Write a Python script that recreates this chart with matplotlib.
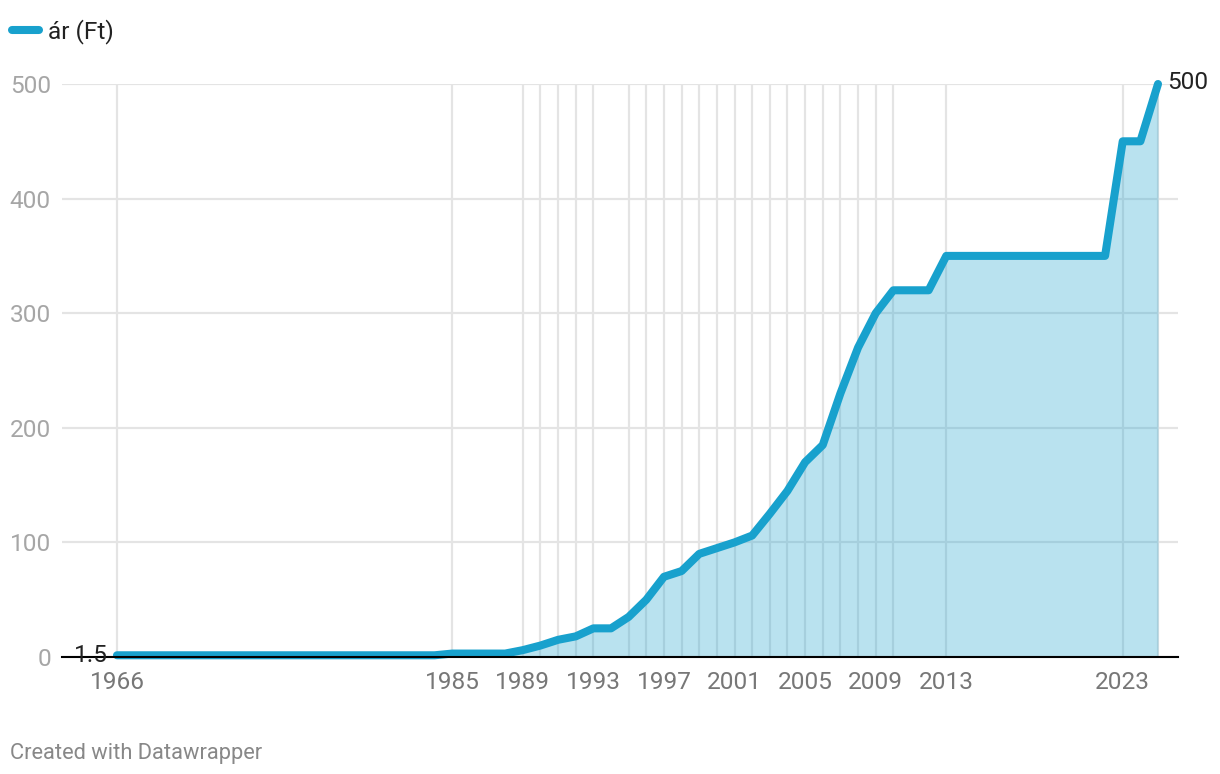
import matplotlib.pyplot as plt

def plt_price():

	plt.rcParams.update({'font.size': 17.6, 'font.family': 'Roboto'})
	# one entry per year where the price is known
	c = {1966: 1.5, 1984: 1.5, 1985: 3, 1988: 3, 1989: 6, 1990: 10, 1991: 15, 1992: 18,
		1993: 25, 1994: 25, 1995: 35, 1996: 50, 1997: 70, 1998: 75, 1999: 90, 2000: 95,
		2001: 100, 2002: 106, 2003: 125, 2004: 145, 2005: 170, 2006: 185, 2007: 230,
		2008: 270, 2009: 300, 2010: 320, 2012: 320, 2013: 350, 2022: 350, 2023: 450,
		2024: 450, 2025: 500}
	x = list(c.keys())
	y = list(c.values())
	labelled = [1966, 1985, 1989, 1993, 1997, 2001, 2005, 2009, 2013, 2023]
	minor = [1990, 1991, 1992, 1995, 1996, 1998, 1999, 2000, 2002, 2003, 2004, 2006, 2007, 2008, 2010, 2025]

	plt.figure(figsize=(12.2, 7.74), dpi=100)
	plt.axes([62/1220, 117/774, 1116/1220, 573/774])
	plt.xlim(1966 - 55/17.65, 2025 + 20/17.65)
	plt.ylim(0, 500)

	plt.xticks(labelled)
	plt.gca().set_xticks(minor, minor=True)
	plt.yticks([0, 100, 200, 300, 400, 500])
	plt.gca().set_axisbelow(True)
	plt.grid(which='both', color='#e4e4e4', linewidth=1.6)
	plt.tick_params(axis='x', which='both', length=0, pad=10, colors='#777777')
	plt.tick_params(axis='y', length=0, pad=8, colors='#a6a6a6')

	plt.fill_between(x, 0, y, color='#18a1cd', alpha=0.3, linewidth=0)
	plt.plot(x, y, color='#18a1cd', linewidth=5.8, solid_capstyle='round', solid_joinstyle='round', clip_on=False, label='ár (Ft)', zorder=3)

	plt.gca().spines['right'].set_visible(False)
	plt.gca().spines['top'].set_visible(False)
	plt.gca().spines['left'].set_visible(False)
	plt.gca().spines['bottom'].set_linewidth(1.5)
	plt.gca().spines['bottom'].set_zorder(4)

	plt.text(1964.5, 1.5, "1.5", horizontalalignment='center', verticalalignment='center', color='#222222', zorder=5)
	plt.gca().annotate('500', (2025, 500), xytext=(6.5, 1), textcoords='offset points', verticalalignment='center', color='#222222')

	plt.legend(loc='upper left', bbox_to_anchor=(12/1220, 1 - 19/774), bbox_transform=plt.gcf().transFigure, frameon=False,
		borderpad=0, borderaxespad=0, handlelength=1.1, handletextpad=0.38, labelcolor='#222222')

	plt.figtext(10/1220, 1 - 753/774, "Created with Datawrapper", color='#888888', fontsize=15.75, verticalalignment='center')

	plt.savefig('out.png', dpi=100)


if __name__ == '__main__':

	plt_price()
